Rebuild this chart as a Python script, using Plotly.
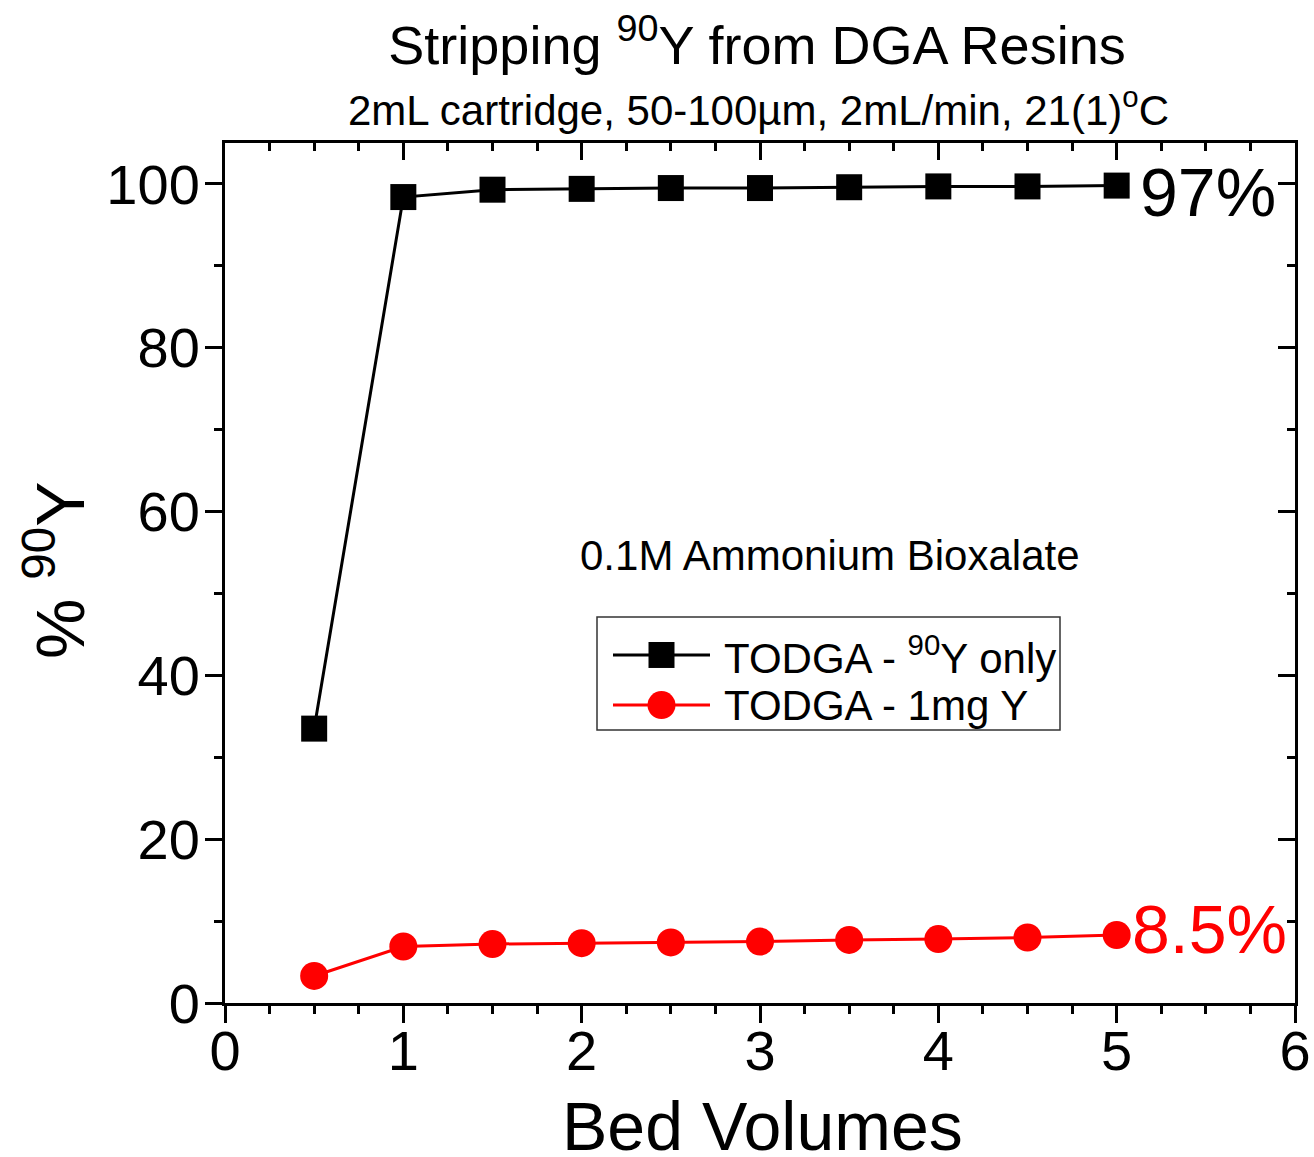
import plotly.graph_objects as go

bed_volumes = [0.5, 1.0, 1.5, 2.0, 2.5, 3.0, 3.5, 4.0, 4.5, 5.0]
y90_only = [33.5, 98.4, 99.3, 99.4, 99.5, 99.5, 99.6, 99.7, 99.7, 99.8]
y_1mg = [3.3, 6.9, 7.2, 7.3, 7.4, 7.5, 7.7, 7.8, 8.0, 8.3]

name_black = "TODGA - <sup>90</sup>Y only"
name_red = "TODGA - 1mg Y"
label_black = "97%"
label_red = "8.5%"
x_title = "Bed Volumes"
y_title = "% <sup>90</sup>Y"

FONT = "Liberation Sans, Arial, sans-serif"
W, H = 1314, 1157
L, R, T, B = 225, 19, 143, 154
PW, PH = W - L - R, H - T - B


def px(xp):
    return (xp - L) / PW


def py(yp):
    return (H - B - yp) / PH


series = [
    dict(y=y90_only, name=name_black, color="black", symbol="square", size=26),
    dict(y=y_1mg, name=name_red, color="red", symbol="circle", size=28),
]

fig = go.Figure()
for s in series:
    fig.add_trace(go.Scatter(
        x=bed_volumes, y=s["y"], mode="lines+markers", name=s["name"],
        line=dict(color=s["color"], width=3),
        marker=dict(symbol=s["symbol"], size=s["size"], color=s["color"]),
        cliponaxis=False, showlegend=False,
    ))

# invisible helper so the mirrored (top/right) axes are drawn
fig.add_trace(go.Scatter(
    x=bed_volumes, y=y90_only, mode="markers", xaxis="x2", yaxis="y2",
    marker=dict(opacity=0), showlegend=False, hoverinfo="skip"))

# custom legend samples drawn on an auxiliary axis pair
legend_rows = [0.664, 0.221]
for s, ry in zip(series, legend_rows):
    fig.add_trace(go.Scatter(
        x=[0, 1], y=[ry, ry], mode="lines", xaxis="x3", yaxis="y3",
        line=dict(color=s["color"], width=3), showlegend=False,
        hoverinfo="skip", cliponaxis=False))
    fig.add_trace(go.Scatter(
        x=[0.5], y=[ry], mode="markers", xaxis="x3", yaxis="y3",
        marker=dict(symbol=s["symbol"], size=s["size"], color=s["color"]),
        showlegend=False, hoverinfo="skip", cliponaxis=False))

axis_common = dict(showline=True, linewidth=3, linecolor="black",
                   showgrid=False, zeroline=False, ticks="outside",
                   tickwidth=3, tickcolor="black", ticklen=17,
                   automargin=False)

fig.update_layout(
    width=W, height=H,
    margin=dict(l=L, r=R, t=T, b=B, autoexpand=False),
    paper_bgcolor="white", plot_bgcolor="white",
    font=dict(family=FONT, color="black"),
    title=dict(text="Stripping <sup>90</sup>Y from DGA Resins",
               x=(757 / W), xanchor="center",
               y=1 - 45 / H, yanchor="middle",
               font=dict(size=54, family=FONT)),
    xaxis=dict(**axis_common, range=[0, 6], dtick=1, tick0=0,
               tickfont=dict(size=56), ticklabelstandoff=-20,
               minor=dict(dtick=0.25, ticklen=8, tickwidth=3,
                          tickcolor="black", ticks="outside")),
    yaxis=dict(**axis_common, range=[0, 105], dtick=20, tick0=0,
               tickfont=dict(size=56), ticklabelstandoff=-6,
               minor=dict(dtick=10, ticklen=8, tickwidth=3,
                          tickcolor="black", ticks="outside")),
    xaxis2=dict(overlaying="x", side="top", anchor="y2", range=[0, 6],
                showline=True, linewidth=3, linecolor="black", showgrid=False,
                zeroline=False, ticks="inside", tickwidth=3, ticklen=17,
                tickcolor="black",
                dtick=1, tick0=0, showticklabels=False, automargin=False,
                minor=dict(dtick=0.25, ticklen=8, tickwidth=3, ticks="inside",
                           tickcolor="black")),
    yaxis2=dict(overlaying="y", side="right", anchor="x2", range=[0, 105],
                showline=True, linewidth=3, linecolor="black", showgrid=False,
                zeroline=False, ticks="inside", tickwidth=3, ticklen=17,
                tickcolor="black",
                dtick=20, tick0=0, showticklabels=False, automargin=False,
                minor=dict(dtick=10, ticklen=8, tickwidth=3, ticks="inside",
                           tickcolor="black")),
    xaxis3=dict(domain=[px(613), px(710)], anchor="y3", range=[0, 1],
                visible=False, fixedrange=True),
    yaxis3=dict(domain=[py(730), py(617)], anchor="x3", range=[0, 1],
                visible=False, fixedrange=True),
    showlegend=False,
)

# axis titles
fig.add_annotation(text=x_title, xref="paper", yref="paper",
                   x=px(762), y=py(1126), xanchor="center", yanchor="middle",
                   showarrow=False, font=dict(size=68))
fig.add_annotation(text=y_title, xref="paper", yref="paper", textangle=-90,
                   x=px(55), y=py(570), xanchor="center", yanchor="middle",
                   showarrow=False, font=dict(size=68))

# legend box
fig.add_shape(type="rect", xref="paper", yref="paper",
              x0=px(597), x1=px(1060), y0=py(730), y1=py(617),
              line=dict(color="#333333", width=1.5), fillcolor="rgba(0,0,0,0)",
              layer="above")
for s, ry in zip(series, legend_rows):
    fig.add_annotation(text=s["name"], xref="paper", yref="y3",
                       x=px(722), y=ry, xanchor="left", yanchor="middle",
                       showarrow=False, font=dict(size=42))

fig.add_annotation(text="2mL cartridge, 50-100µm, 2mL/min, 21(1)<sup>o</sup>C",
                   xref="paper", yref="paper", x=px(758),
                   y=py(107), xanchor="center", yanchor="middle",
                   showarrow=False, font=dict(size=42))
fig.add_annotation(text="0.1M Ammonium Bioxalate",
                   xref="paper", yref="paper", x=px(830),
                   y=py(555), xanchor="center", yanchor="middle",
                   showarrow=False, font=dict(size=42))
fig.add_annotation(text=label_black, x=bed_volumes[-1], y=y90_only[-1],
                   xanchor="left", yanchor="middle", xshift=21, yshift=-6,
                   showarrow=False, font=dict(size=68, color="black"))
fig.add_annotation(text=label_red, x=bed_volumes[-1], y=y_1mg[-1],
                   xanchor="left", yanchor="middle", xshift=13, yshift=6,
                   showarrow=False, font=dict(size=68, color="red"))

fig.write_html("out.html", config={"displayModeBar": False},
               post_script="document.body.style.margin='0px';")
